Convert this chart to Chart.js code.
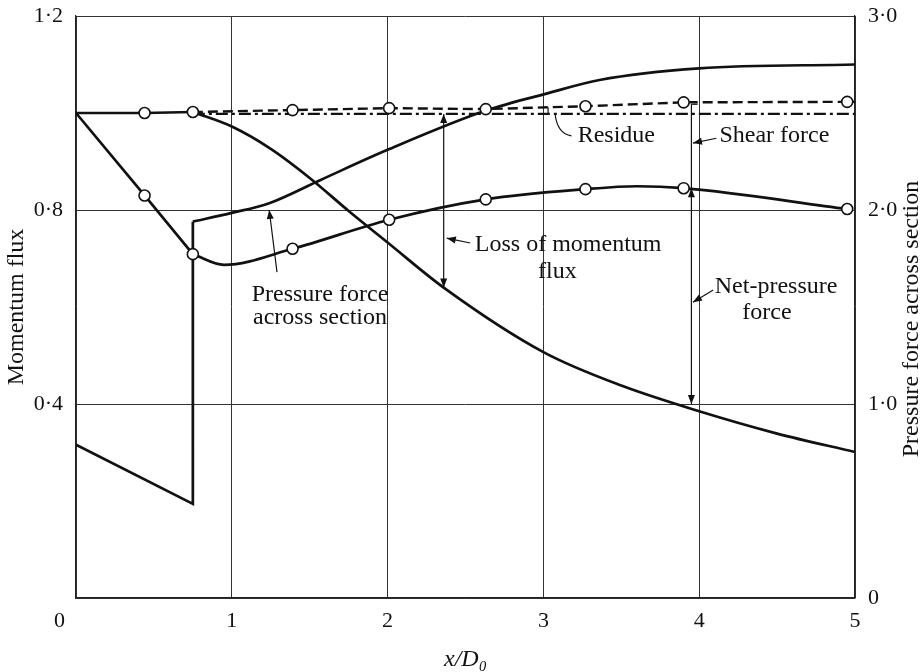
<!DOCTYPE html>
<html>
<head>
<meta charset="utf-8">
<title>Momentum flux balance along the duct</title>
<script src="https://cdn.jsdelivr.net/npm/chart.js@4.4.1/dist/chart.umd.min.js"></script>
<style>
  html, body { margin: 0; background: #fff; }
  #wrap { width: 924px; height: 672px; }
</style>
</head>
<body>
<div id="wrap"><canvas id="chart"></canvas></div>
<script>
// traverse stations x/D0 (open circles)
const stationX      = [0.44, 0.75, 1.39, 2.01, 2.63, 3.27, 3.90, 4.95];
const totalFluxV    = [1.0, 1.002, 1.006, 1.01, 1.008, 1.014, 1.022, 1.023];
const measuredFluxV = [0.83, 0.709, 0.72, 0.78, 0.822, 0.843, 0.845, 0.802];

// faired measured-flux curve: straight fall to the step, then smooth
const fluxDropX  = [0, 0.44, 0.75];
const fluxDropV  = [1.0, 0.83, 0.709];
const fluxCurveX = [0.75, 0.95, 1.39, 2.01, 2.63, 3.27, 3.6, 3.90, 4.95];
const fluxCurveV = [0.709, 0.687, 0.72, 0.78, 0.822, 0.843, 0.849, 0.845, 0.802];

// momentum flux left after losses
const momentumX = [0.75, 1.0, 1.25, 1.5, 1.75, 2.0, 2.36, 3.0, 3.5, 4.0, 4.5, 5.0];
const momentumV = [1.002, 0.972, 0.926, 0.866, 0.798, 0.733, 0.64, 0.507, 0.438, 0.385, 0.339, 0.301];

// sum line (dash-dot)
const balanceX = [0.75, 5.0];
const balanceV = [0.998, 0.998];

// pressure force across section (right axis)
const pressureLowX  = [0, 0.75, 0.75];
const pressureLowV  = [0.79, 0.485, 1.94];
const pressureHighX = [0.75, 1.0, 1.24, 1.57, 2.0, 2.64, 3.02, 3.36, 4.0, 5.0];
const pressureHighV = [1.94, 1.985, 2.035, 2.155, 2.31, 2.515, 2.6, 2.67, 2.73, 2.75];

const SERIF = '"Liberation Serif", "Times New Roman", serif';
const INK = '#111';

const xy = (xs, ys) => xs.map((v, i) => ({ x: v, y: ys[i] }));
const dotted = v => v.toFixed(1).replace('.', '\u00b7');

const line = (data, extra) => Object.assign({
  data,
  borderColor: INK,
  borderWidth: 2.7,
  pointRadius: 0,
  fill: false,
  tension: 0,
  yAxisID: 'y'
}, extra);

const circles = (data) => ({
  data,
  showLine: false,
  pointRadius: 5.5,
  pointBackgroundColor: '#fff',
  pointBorderColor: INK,
  pointBorderWidth: 1.6,
  yAxisID: 'y'
});

function arrowHead(ctx, x0, y0, x1, y1, len = 9, half = 3.5) {
  const a = Math.atan2(y1 - y0, x1 - x0);
  ctx.beginPath();
  ctx.moveTo(x1, y1);
  ctx.lineTo(x1 - len * Math.cos(a) + half * Math.sin(a), y1 - len * Math.sin(a) - half * Math.cos(a));
  ctx.lineTo(x1 - len * Math.cos(a) - half * Math.sin(a), y1 - len * Math.sin(a) + half * Math.cos(a));
  ctx.closePath();
  ctx.fill();
}

// labels, leaders and dimension arrows
const notes = {
  id: 'notes',
  afterDatasetsDraw(chart) {
    const { ctx, scales: { x, y } } = chart;
    const px = v => x.getPixelForValue(v);
    const py = v => y.getPixelForValue(v);
    ctx.save();
    ctx.strokeStyle = INK;
    ctx.fillStyle = INK;
    ctx.lineWidth = 1.2;

    const seg = (xa, va, xb, vb) => {
      ctx.beginPath();
      ctx.moveTo(px(xa), py(va));
      ctx.lineTo(px(xb), py(vb));
      ctx.stroke();
    };
    const arrow = (xa, va, xb, vb) => {
      seg(xa, va, xb, vb);
      arrowHead(ctx, px(xa), py(va), px(xb), py(vb));
    };

    // loss of momentum flux
    seg(2.36, 0.998, 2.36, 0.64);
    arrowHead(ctx, px(2.36), py(0.9), px(2.36), py(0.998));
    arrowHead(ctx, px(2.36), py(0.7), px(2.36), py(0.64));
    arrow(2.53, 0.732, 2.38, 0.742);

    // pressure force leader
    arrow(1.29, 0.672, 1.24, 0.80);

    // residue bracket and leader
    seg(3.03, 1.012, 3.03, 0.998);
    ctx.beginPath();
    ctx.moveTo(px(3.075), py(0.998));
    ctx.quadraticCurveTo(px(3.09), py(0.957), px(3.18), py(0.953));
    ctx.stroke();

    // shear and net-pressure dimension line
    seg(3.95, 1.018, 3.95, 0.40);
    seg(3.95, 1.018, 3.99, 1.018);
    arrowHead(ctx, px(3.95), py(0.5), px(3.95), py(0.40));
    arrowHead(ctx, px(3.95), py(0.75), px(3.95), py(0.845));
    arrow(4.11, 0.948, 3.96, 0.938);
    arrow(4.09, 0.635, 3.96, 0.61);

    ctx.font = '24px ' + SERIF;
    ctx.textBaseline = 'middle';
    ctx.textAlign = 'left';
    ctx.fillText('Loss of momentum', px(2.56), py(0.728));
    ctx.fillText('Residue', px(3.22), py(0.953));
    ctx.fillText('Shear force', px(4.13), py(0.953));
    ctx.fillText('Net-pressure', px(4.10), py(0.641));
    ctx.textAlign = 'center';
    ctx.fillText('flux', px(3.09), py(0.672));
    ctx.fillText('force', px(4.435), py(0.588));
    ctx.fillText('Pressure force', px(1.566), py(0.625));
    ctx.fillText('across section', px(1.566), py(0.577));
    ctx.restore();
  },
  afterDraw(chart) {
    // right-hand axis title, reading upwards
    const { ctx, chartArea } = chart;
    ctx.save();
    ctx.translate(chart.width - 12, (chartArea.top + chartArea.bottom) / 2 + 12);
    ctx.rotate(-Math.PI / 2);
    ctx.font = '24px ' + SERIF;
    ctx.fillStyle = INK;
    ctx.textAlign = 'center';
    ctx.textBaseline = 'middle';
    ctx.fillText('Pressure force across section', 0, 0);
    ctx.restore();
  }
};

const tickFont = { family: SERIF, size: 22 };
const titleFont = { family: SERIF, size: 24, lineHeight: 1 };

// fixed axis boxes so the plot area sits where the drawing needs it
const fitVertical = w => s => {
  s.width = w;
  s.paddingTop = 0;
  s.paddingBottom = 0;
};

new Chart(document.getElementById('chart'), {
  type: 'line',
  data: {
    datasets: [
      circles(xy(stationX, totalFluxV)),
      circles(xy(stationX, measuredFluxV)),
      line(xy([0, ...stationX, 5], [1.0, ...totalFluxV, 1.023]), {
        borderWidth: 2.4,
        segment: { borderDash: c => c.p0.parsed.x >= 0.75 ? [10, 5] : undefined }
      }),
      line(xy(balanceX, balanceV), { borderWidth: 2.2, borderDash: [12, 4, 3, 4] }),
      line(xy(fluxDropX, fluxDropV)),
      line(xy(fluxCurveX, fluxCurveV), { cubicInterpolationMode: 'monotone' }),
      line(xy(momentumX, momentumV), { cubicInterpolationMode: 'monotone' }),
      line(xy(pressureLowX, pressureLowV), { yAxisID: 'y1' }),
      line(xy(pressureHighX, pressureHighV), { yAxisID: 'y1', cubicInterpolationMode: 'monotone' })
    ]
  },
  options: {
    responsive: true,
    maintainAspectRatio: false,
    animation: false,
    layout: { padding: { top: 16, left: 0, right: 0, bottom: 0 } },
    plugins: { legend: { display: false }, tooltip: { enabled: false } },
    scales: {
      x: {
        type: 'linear',
        min: 0,
        max: 5,
        afterFit: s => {
          s.height = 74;
          s.paddingLeft = 0;
          s.paddingRight = 0;
        },
        ticks: {
          stepSize: 1,
          padding: 10,
          color: INK,
          font: tickFont,
          callback: v => v === 0 ? '0\u2003\u2002' : String(v)
        },
        grid: { color: '#333', lineWidth: 1, drawTicks: false },
        border: { color: '#222', width: 1.2 },
        title: {
          display: true,
          text: 'x/D\u2080',
          color: INK,
          font: { family: SERIF, size: 24, style: 'italic', lineHeight: 1 },
          padding: { top: 0, bottom: 0 }
        }
      },
      y: {
        position: 'left',
        min: 0,
        max: 1.2,
        afterFit: fitVertical(76),
        ticks: {
          stepSize: 0.4,
          padding: 13,
          color: INK,
          font: tickFont,
          callback: v => v === 0 ? '' : dotted(v)
        },
        grid: { color: '#333', lineWidth: 1, drawTicks: false },
        border: { color: '#222', width: 1.2 },
        title: {
          display: true,
          text: 'Momentum flux',
          color: INK,
          font: titleFont,
          padding: { top: 5, bottom: 0 }
        }
      },
      y1: {
        position: 'right',
        min: 0,
        max: 3,
        afterFit: fitVertical(69),
        ticks: {
          stepSize: 1,
          padding: 13,
          color: INK,
          font: tickFont,
          callback: v => v === 0 ? '0' : dotted(v)
        },
        grid: { display: false, drawTicks: false },
        border: { color: '#222', width: 1.2 }
      }
    }
  },
  plugins: [notes]
});
</script>
</body>
</html>
